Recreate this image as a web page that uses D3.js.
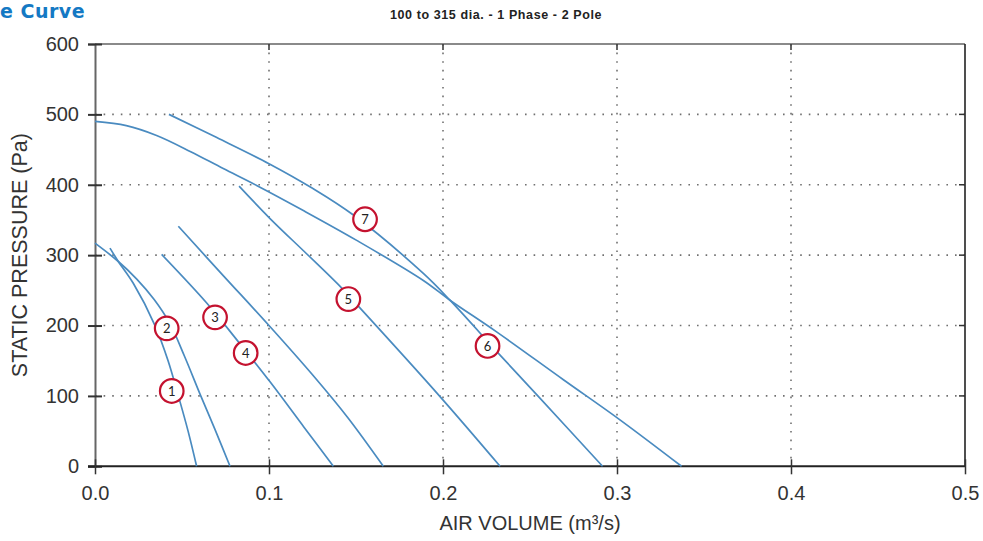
<!DOCTYPE html>
<html>
<head>
<meta charset="utf-8">
<script src="https://cdn.jsdelivr.net/npm/d3@7/dist/d3.min.js"></script>
<style>
  html, body { margin: 0; padding: 0; background: #fff; }
  svg { display: block; }
</style>
</head>
<body>
<svg id="chart" width="983" height="541"></svg>
<script>
// ---- Data ----
const xTicks = [0, 0.1, 0.2, 0.3, 0.4, 0.5];
const xTickLabels = ["0.0", "0.1", "0.2", "0.3", "0.4", "0.5"];
const yTicks = [0, 100, 200, 300, 400, 500, 600];

const curve1 = [[0.0086,310],[0.0134,291],[0.022,260],[0.0345,200],[0.042,150],[0.0479,100],[0.0535,50],[0.0584,0]];
const curve2 = [[0,317],[0.0134,291],[0.024,266],[0.034,237],[0.043,203],[0.0515,156],[0.0603,103],[0.069,52],[0.0776,0]];
const curve3 = [[0.0479,341],[0.0737,271],[0.1,200],[0.125,130],[0.145,70],[0.1657,0]];
const curve4 = [[0.0383,301],[0.0642,232],[0.0814,180],[0.1006,120],[0.12,56],[0.137,0]];
const curve5 = [[0.0828,398],[0.1006,352],[0.1216,302],[0.1399,258],[0.1504,230],[0.1983,99],[0.2328,0]];
const curve6 = [[0,490],[0.018,484],[0.0354,470],[0.055,447],[0.0737,423],[0.0929,399],[0.12,363],[0.1504,321],[0.1887,264],[0.204,236],[0.2308,191],[0.2692,123],[0.3017,66],[0.3371,0]];
const curve7 = [[0.0425,500],[0.07,467],[0.1,430],[0.125,395],[0.1485,357],[0.1887,274],[0.204,236],[0.2328,158],[0.2553,98],[0.2917,0]];
const curves = [curve1, curve2, curve3, curve4, curve5, curve6, curve7];

const labelNames = ["1","2","3","4","5","6","7"];
const labelX = [0.0441, 0.0412, 0.069, 0.0866, 0.1456, 0.2256, 0.1552];
const labelY = [107, 196, 211.6, 161, 237.6, 171, 351];

const titleText = "e Curve";
const subtitleText = "100 to 315 dia. - 1 Phase - 2 Pole";
const xAxisTitle = "AIR VOLUME (m\u00b3/s)";
const yAxisTitle = "STATIC PRESSURE (Pa)";

// ---- Layout ----
const svg = d3.select("#chart");
const pL = 95, pR = 965, pT = 44, pB = 466.3;
const x = d3.scaleLinear().domain([0, 0.5]).range([pL, pR]);
const y = d3.scaleLinear().domain([0, 600]).range([pB, pT]);

const axisFont = "Liberation Sans, Arial, sans-serif";

// Title
svg.append("text").attr("x", 0).attr("y", 17.5)
  .attr("font-family", "DejaVu Sans, sans-serif")
  .attr("font-size", 19).attr("font-weight", "bold")
  .attr("letter-spacing", 0.5)
  .attr("fill", "#1479c4").text(titleText);

svg.append("text").attr("x", 496).attr("y", 19)
  .attr("text-anchor", "middle")
  .attr("font-family", axisFont).attr("font-size", 12.5).attr("font-weight", "bold")
  .attr("letter-spacing", 0.6)
  .attr("fill", "#222").text(subtitleText);

// Gridlines (dotted)
const grid = svg.append("g");
grid.selectAll("line.hg").data(yTicks.filter(d => d > 0 && d < 600)).enter().append("line")
  .attr("x1", pL).attr("x2", pR)
  .attr("y1", d => y(d)).attr("y2", d => y(d))
  .attr("stroke", "#707070").attr("stroke-width", 1.6)
  .attr("stroke-dasharray", "1.6,7");
grid.selectAll("line.vg").data(xTicks.filter(d => d > 0 && d < 0.5)).enter().append("line")
  .attr("y1", pT).attr("y2", pB)
  .attr("x1", d => x(d)).attr("x2", d => x(d))
  .attr("stroke", "#707070").attr("stroke-width", 1.6)
  .attr("stroke-dasharray", "1.6,7");

// Frame
svg.append("line").attr("x1", pL).attr("x2", pR).attr("y1", pT).attr("y2", pT)
  .attr("stroke", "#8a8a8a").attr("stroke-width", 2);
svg.append("line").attr("x1", pR).attr("x2", pR).attr("y1", pT).attr("y2", pB)
  .attr("stroke", "#222").attr("stroke-width", 1.6);

// Y axis
const yAxis = d3.axisLeft(y).tickValues(yTicks).tickSize(7).tickPadding(9).tickFormat(d3.format("d"));
const gy = svg.append("g").attr("transform", `translate(${pL},0)`).call(yAxis);
gy.select(".domain").attr("stroke", "#666").attr("stroke-width", 2);
gy.selectAll(".tick line").attr("stroke", "#333").attr("stroke-width", 2).attr("x2", 7).attr("x1", -7);
gy.selectAll(".tick text").attr("font-family", axisFont).attr("font-size", 20).attr("fill", "#333").attr("x", -16);

// X axis
const xAxis = d3.axisBottom(x).tickValues(xTicks).tickSize(8).tickPadding(10)
  .tickFormat((d, i) => xTickLabels[i]);
const gx = svg.append("g").attr("transform", `translate(0,${pB})`).call(xAxis);
gx.select(".domain").attr("stroke", "#222").attr("stroke-width", 2).attr("d", `M${pL - 7},0H${pR}`);
gx.selectAll(".tick line").attr("stroke", "#333").attr("stroke-width", 1.5).attr("y1", -7).attr("y2", 8);
gx.selectAll(".tick text").attr("font-family", axisFont).attr("font-size", 20).attr("fill", "#333")
  .attr("y", 20).attr("dy", "0.71em");

// Top & right small ticks
svg.append("g").selectAll("line").data(xTicks.filter(d => d > 0 && d < 0.5)).enter().append("line")
  .attr("x1", d => x(d)).attr("x2", d => x(d)).attr("y1", pT).attr("y2", pT + 6)
  .attr("stroke", "#333").attr("stroke-width", 1.5);
svg.append("g").selectAll("line").data(yTicks.filter(d => d > 0 && d < 600)).enter().append("line")
  .attr("x1", pR - 6).attr("x2", pR).attr("y1", d => y(d)).attr("y2", d => y(d))
  .attr("stroke", "#333").attr("stroke-width", 1.5);

// Axis titles
svg.append("text").attr("x", 530).attr("y", 530).attr("text-anchor", "middle")
  .attr("font-family", axisFont).attr("font-size", 20).attr("fill", "#333").text(xAxisTitle);
svg.append("text").attr("transform", `translate(27,${(pT + pB) / 2}) rotate(-90)`)
  .attr("text-anchor", "middle")
  .attr("font-family", axisFont).attr("font-size", 21.5).attr("fill", "#333").text(yAxisTitle);

// Curves
const line = d3.line().x(d => x(d[0])).y(d => y(d[1])).curve(d3.curveCatmullRom.alpha(0.5));
svg.append("g").selectAll("path").data(curves).enter().append("path")
  .attr("d", line).attr("fill", "none")
  .attr("stroke", "#4a8bc0").attr("stroke-width", 1.7);

// Curve labels
const lg = svg.append("g").selectAll("g").data(labelNames).enter().append("g")
  .attr("transform", (d, i) => `translate(${x(labelX[i])},${y(labelY[i])})`);
lg.append("circle").attr("r", 11.8).attr("fill", "#fff").attr("stroke", "#c4122f").attr("stroke-width", 2.2);
lg.append("text").attr("text-anchor", "middle").attr("dy", "0.36em")
  .attr("font-family", "Lato, 'Open Sans', sans-serif").attr("font-size", 13)
  .attr("fill", "#222").text(d => d);
</script>
</body>
</html>
